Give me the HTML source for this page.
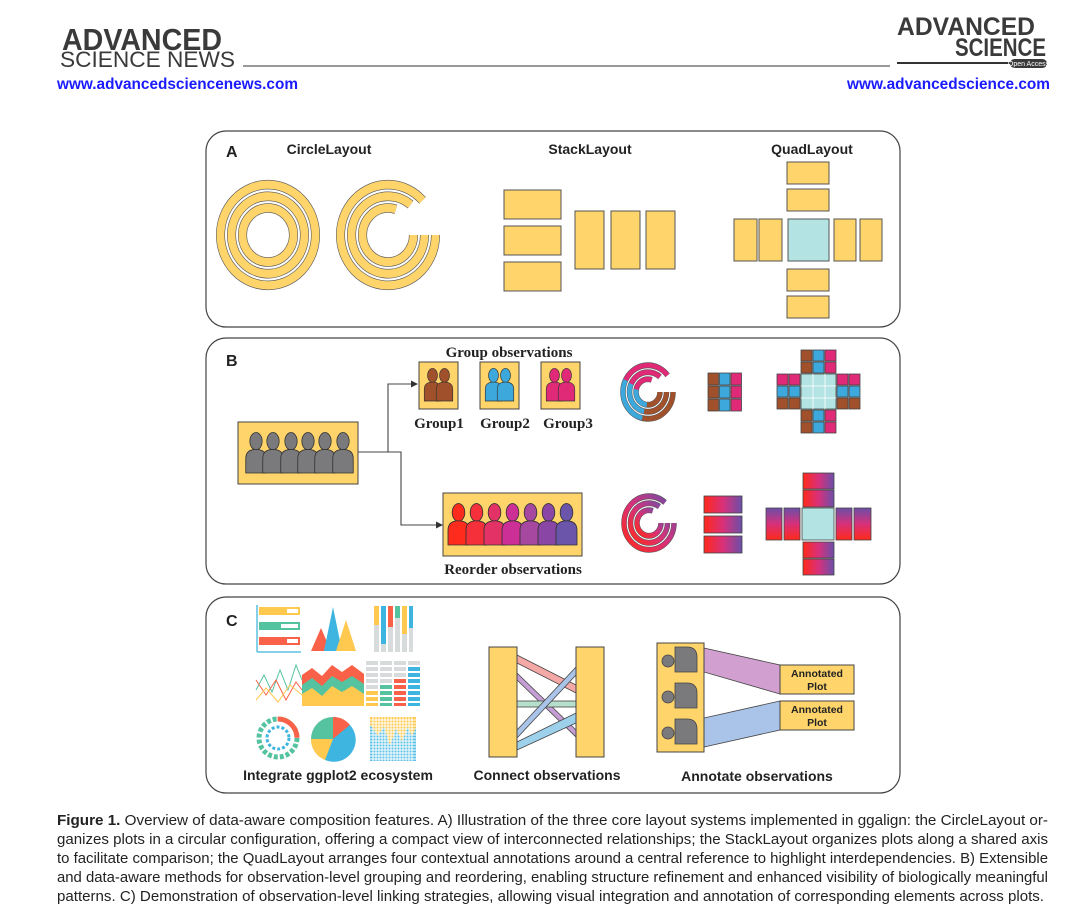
<!DOCTYPE html>
<html><head><meta charset="utf-8"><style>
html,body{margin:0;padding:0;background:#fff;}
svg{display:block;}
</style></head><body>
<svg width="1092" height="912" viewBox="0 0 1092 912" xmlns="http://www.w3.org/2000/svg" font-family="Liberation Sans, sans-serif">
<defs>
<symbol id="p" viewBox="0 0 20 40" overflow="visible">
<ellipse cx="10" cy="9" rx="6" ry="8.5"/>
<path d="M0,40 L0,26 Q0,17 10,17 Q20,17 20,26 L20,40 Z"/>
</symbol>
<linearGradient id="gh" x1="0" y1="0" x2="1" y2="0"><stop offset="0" stop-color="#ff2a1a"/><stop offset="0.5" stop-color="#d8307a"/><stop offset="1" stop-color="#6b4fa8"/></linearGradient>
<linearGradient id="gv" x1="0" y1="0" x2="0" y2="1"><stop offset="0" stop-color="#6b4fa8"/><stop offset="0.5" stop-color="#d8307a"/><stop offset="1" stop-color="#ff2a1a"/></linearGradient>
<linearGradient id="gc" x1="0" y1="1" x2="1" y2="0"><stop offset="0" stop-color="#ff2a1a"/><stop offset="0.5" stop-color="#d8307a"/><stop offset="1" stop-color="#6b4fa8"/></linearGradient>
</defs>

<!-- Header -->
<text x="62" y="50" font-size="31" font-weight="bold" fill="#3a3a3a" textLength="160" lengthAdjust="spacingAndGlyphs">ADVANCED</text>
<text x="60" y="67" font-size="22" fill="#3a3a3a" textLength="175" lengthAdjust="spacingAndGlyphs">SCIENCE NEWS</text>
<line x1="243" y1="66" x2="890" y2="66" stroke="#333" stroke-width="1"/>
<text x="897" y="35" font-size="25" font-weight="bold" fill="#3a3a3a" textLength="138" lengthAdjust="spacingAndGlyphs">ADVANCED</text>
<text x="955" y="56" font-size="25" font-weight="bold" fill="#3a3a3a" textLength="91" lengthAdjust="spacingAndGlyphs">SCIENCE</text>
<line x1="897" y1="63" x2="1010" y2="63" stroke="#333" stroke-width="2"/>
<rect x="1010" y="59" width="37" height="9" rx="4.5" fill="#3a3a3a"/>
<text x="1028.5" y="66" font-size="7" fill="#fff" text-anchor="middle">Open Access</text>
<text x="57" y="89" font-size="16" font-weight="bold" fill="#1a1aff" textLength="241" lengthAdjust="spacingAndGlyphs">www.advancedsciencenews.com</text>
<text x="1050" y="89" font-size="16" font-weight="bold" fill="#1a1aff" text-anchor="end" textLength="203" lengthAdjust="spacingAndGlyphs">www.advancedscience.com</text>

<!-- Panels -->
<g fill="none" stroke="#444" stroke-width="1.2">
<rect x="206" y="131" width="694" height="196" rx="20"/>
<rect x="206" y="338" width="694" height="246" rx="20"/>
<rect x="206" y="597" width="694" height="196" rx="20"/>
</g>

<!-- Panel A -->
<g font-weight="bold" font-size="14" fill="#222">
<text x="226" y="157" font-size="16">A</text>
<text x="329" y="154" text-anchor="middle">CircleLayout</text>
<text x="590" y="154" text-anchor="middle">StackLayout</text>
<text x="812" y="154" text-anchor="middle">QuadLayout</text>
</g>
<g transform="translate(268,235) scale(1,1.06)" fill="none">
<circle r="47.5" stroke="#555" stroke-width="9"/><circle r="47.5" stroke="#FFD56B" stroke-width="7.8"/>
<circle r="36.5" stroke="#555" stroke-width="9"/><circle r="36.5" stroke="#FFD56B" stroke-width="7.8"/>
<circle r="25.5" stroke="#555" stroke-width="9"/><circle r="25.5" stroke="#FFD56B" stroke-width="7.8"/>
</g>
<g transform="translate(388,235) scale(1,1.06)" fill="none">
<circle r="47.5" stroke="#555" stroke-width="9" stroke-dasharray="262 400"/><circle r="47.5" stroke="#FFD56B" stroke-width="7.8" stroke-dasharray="262 400"/>
<circle r="36.5" stroke="#555" stroke-width="9" stroke-dasharray="196 400"/><circle r="36.5" stroke="#FFD56B" stroke-width="7.8" stroke-dasharray="196 400"/>
<circle r="25.5" stroke="#555" stroke-width="9" stroke-dasharray="128 400"/><circle r="25.5" stroke="#FFD56B" stroke-width="7.8" stroke-dasharray="128 400"/>
</g>
<g fill="#FFD56B" stroke="#555" stroke-width="1">
<rect x="504" y="190" width="57" height="29"/><rect x="504" y="226" width="57" height="29"/><rect x="504" y="262" width="57" height="29"/>
<rect x="575" y="211" width="29" height="58"/><rect x="611" y="211" width="29" height="58"/><rect x="646" y="211" width="29" height="58"/>
<rect x="787" y="162" width="42" height="22"/><rect x="787" y="189" width="42" height="22"/>
<rect x="734" y="219" width="23" height="42"/><rect x="759" y="219" width="23" height="42"/>
<rect x="788" y="219" width="41" height="42" fill="#B3E3E3"/>
<rect x="834" y="219" width="22" height="42"/><rect x="860" y="219" width="22" height="42"/>
<rect x="787" y="269" width="42" height="22"/><rect x="787" y="296" width="42" height="22"/>
</g>

<!-- Panel B -->
<text x="226" y="366" font-size="16" font-weight="bold" fill="#222">B</text>
<g font-family="Liberation Serif, serif" font-weight="bold" fill="#222">
<text x="509" y="357" font-size="15" text-anchor="middle">Group observations</text>
<text x="439" y="428" font-size="15" text-anchor="middle">Group1</text>
<text x="505" y="428" font-size="15" text-anchor="middle">Group2</text>
<text x="568" y="428" font-size="15" text-anchor="middle">Group3</text>
<text x="513" y="574" font-size="15" text-anchor="middle">Reorder observations</text>
</g>
<g fill="#FFD56B" stroke="#444" stroke-width="1">
<rect x="238" y="422" width="120" height="62"/>
<rect x="419" y="362" width="39" height="47"/>
<rect x="480" y="362" width="39" height="47"/>
<rect x="541" y="362" width="39" height="47"/>
<rect x="443" y="493" width="139" height="63"/>
</g>
<g stroke="#333" stroke-width="0.8">
<g fill="#7a7a7c">
<use href="#p" x="245" y="432" width="22" height="41"/><use href="#p" x="262" y="432" width="22" height="41"/><use href="#p" x="280" y="432" width="22" height="41"/><use href="#p" x="297" y="432" width="22" height="41"/><use href="#p" x="314" y="432" width="22" height="41"/><use href="#p" x="332" y="432" width="22" height="41"/>
</g>
<g fill="#a0502a"><use href="#p" x="424" y="368" width="17" height="33"/><use href="#p" x="436" y="368" width="17" height="33"/></g>
<g fill="#3ca8dc"><use href="#p" x="485" y="368" width="17" height="33"/><use href="#p" x="497" y="368" width="17" height="33"/></g>
<g fill="#e02a78"><use href="#p" x="546" y="368" width="17" height="33"/><use href="#p" x="558" y="368" width="17" height="33"/></g>
<use href="#p" x="448" y="503" width="21" height="42" fill="#ff2b1c"/>
<use href="#p" x="466" y="503" width="21" height="42" fill="#f5303a"/>
<use href="#p" x="484" y="503" width="21" height="42" fill="#e33266"/>
<use href="#p" x="502" y="503" width="21" height="42" fill="#cc2f95"/>
<use href="#p" x="520" y="503" width="21" height="42" fill="#a647a0"/>
<use href="#p" x="538" y="503" width="21" height="42" fill="#8a46a5"/>
<use href="#p" x="556" y="503" width="21" height="42" fill="#6a55ab"/>
</g>
<g fill="none" stroke="#444" stroke-width="1.1">
<polyline points="358,452 401,452 401,525 437,525"/>
<polyline points="388,452 388,384 412,384"/>
</g>
<path d="M418,384 l-7,-3.5 v7 z M443,525 l-7,-3.5 v7 z" fill="#333"/>

<!-- B colored circle -->
<g transform="translate(648,392) scale(1,1.07)" fill="none">
<circle r="25" stroke="#555" stroke-width="5.5" stroke-dasharray="140 200"/>
<circle r="25" stroke="#a0502a" stroke-width="4.5" stroke-dasharray="45 200"/>
<circle r="25" stroke="#3ca8dc" stroke-width="4.5" stroke-dasharray="0 45 45 200"/>
<circle r="25" stroke="#e02a78" stroke-width="4.5" stroke-dasharray="0 90 50 200"/>
<circle r="18.5" stroke="#555" stroke-width="5.5" stroke-dasharray="100 200"/>
<circle r="18.5" stroke="#a0502a" stroke-width="4.5" stroke-dasharray="33 200"/>
<circle r="18.5" stroke="#3ca8dc" stroke-width="4.5" stroke-dasharray="0 33 33 200"/>
<circle r="18.5" stroke="#e02a78" stroke-width="4.5" stroke-dasharray="0 66 34 200"/>
<circle r="12" stroke="#555" stroke-width="5.5" stroke-dasharray="60 200"/>
<circle r="12" stroke="#a0502a" stroke-width="4.5" stroke-dasharray="20 200"/>
<circle r="12" stroke="#3ca8dc" stroke-width="4.5" stroke-dasharray="0 20 20 200"/>
<circle r="12" stroke="#e02a78" stroke-width="4.5" stroke-dasharray="0 40 20 200"/>
</g>
<!-- B stack grid -->
<g stroke="#444" stroke-width="0.8">
<rect x="708" y="373" width="10.5" height="12" fill="#a0502a"/><rect x="719.5" y="373" width="10.5" height="12" fill="#3ca8dc"/><rect x="731" y="373" width="10.5" height="12" fill="#e02a78"/>
<rect x="708" y="386" width="10.5" height="12" fill="#a0502a"/><rect x="719.5" y="386" width="10.5" height="12" fill="#3ca8dc"/><rect x="731" y="386" width="10.5" height="12" fill="#e02a78"/>
<rect x="708" y="399" width="10.5" height="12" fill="#a0502a"/><rect x="719.5" y="399" width="10.5" height="12" fill="#3ca8dc"/><rect x="731" y="399" width="10.5" height="12" fill="#e02a78"/>
</g>
<!-- B quad grid -->
<g stroke="#444" stroke-width="0.8">
<rect x="801" y="350" width="11" height="11" fill="#a0502a"/><rect x="813" y="350" width="11" height="11" fill="#3ca8dc"/><rect x="825" y="350" width="11" height="11" fill="#e02a78"/>
<rect x="801" y="362" width="11" height="11" fill="#a0502a"/><rect x="813" y="362" width="11" height="11" fill="#3ca8dc"/><rect x="825" y="362" width="11" height="11" fill="#e02a78"/>
<rect x="777" y="374" width="11" height="11" fill="#e02a78"/><rect x="789" y="374" width="11" height="11" fill="#e02a78"/>
<rect x="777" y="386" width="11" height="11" fill="#3ca8dc"/><rect x="789" y="386" width="11" height="11" fill="#3ca8dc"/>
<rect x="777" y="398" width="11" height="11" fill="#a0502a"/><rect x="789" y="398" width="11" height="11" fill="#a0502a"/>
<rect x="801" y="374" width="35" height="35" fill="#B3E3E3"/>
<path d="M813,374 v35 M825,374 v35 M801,386 h35 M801,398 h35" stroke="#fff"/>
<rect x="837" y="374" width="11" height="11" fill="#e02a78"/><rect x="849" y="374" width="11" height="11" fill="#e02a78"/>
<rect x="837" y="386" width="11" height="11" fill="#3ca8dc"/><rect x="849" y="386" width="11" height="11" fill="#3ca8dc"/>
<rect x="837" y="398" width="11" height="11" fill="#a0502a"/><rect x="849" y="398" width="11" height="11" fill="#a0502a"/>
<rect x="801" y="410" width="11" height="11" fill="#a0502a"/><rect x="813" y="410" width="11" height="11" fill="#3ca8dc"/><rect x="825" y="410" width="11" height="11" fill="#e02a78"/>
<rect x="801" y="422" width="11" height="11" fill="#a0502a"/><rect x="813" y="422" width="11" height="11" fill="#3ca8dc"/><rect x="825" y="422" width="11" height="11" fill="#e02a78"/>
</g>
<!-- B gradient circle -->
<g transform="translate(649,523) scale(1,1.07)" fill="none">
<circle r="25" stroke="#555" stroke-width="5.5" stroke-dasharray="135 200"/><circle r="25" stroke="url(#gc)" stroke-width="4.5" stroke-dasharray="135 200"/>
<circle r="18.5" stroke="#555" stroke-width="5.5" stroke-dasharray="98 200"/><circle r="18.5" stroke="url(#gc)" stroke-width="4.5" stroke-dasharray="98 200"/>
<circle r="12" stroke="#555" stroke-width="5.5" stroke-dasharray="60 200"/><circle r="12" stroke="url(#gc)" stroke-width="4.5" stroke-dasharray="60 200"/>
</g>
<g stroke="#444" stroke-width="0.8">
<rect x="704" y="496" width="38" height="17" fill="url(#gh)"/><rect x="704" y="516" width="38" height="17" fill="url(#gh)"/><rect x="704" y="536" width="38" height="17" fill="url(#gh)"/>
<rect x="803" y="473" width="31" height="16" fill="url(#gh)"/><rect x="803" y="490" width="31" height="17" fill="url(#gh)"/>
<rect x="766" y="508" width="16" height="32" fill="url(#gv)"/><rect x="784" y="508" width="16" height="32" fill="url(#gv)"/>
<rect x="802" y="508" width="32" height="32" fill="#B3E3E3"/>
<rect x="836" y="508" width="16" height="32" fill="url(#gv)"/><rect x="854" y="508" width="17" height="32" fill="url(#gv)"/>
<rect x="803" y="542" width="31" height="16" fill="url(#gh)"/><rect x="803" y="559" width="31" height="16" fill="url(#gh)"/>
</g>

<!-- Panel C -->
<text x="226" y="626" font-size="16" font-weight="bold" fill="#222">C</text>
<g font-weight="bold" font-size="14" fill="#222">
<text x="338" y="780" text-anchor="middle">Integrate ggplot2 ecosystem</text>
<text x="547" y="780" text-anchor="middle">Connect observations</text>
<text x="757" y="781" text-anchor="middle">Annotate observations</text>
</g>
<g>
<line x1="257" y1="605" x2="257" y2="652" stroke="#5bc0e0" stroke-width="1.5"/><line x1="257" y1="652" x2="301" y2="652" stroke="#5bc0e0" stroke-width="1.5"/>
<rect x="259" y="607" width="41" height="8" fill="#FFC94F"/><rect x="287" y="609" width="11" height="4" fill="#fff"/>
<rect x="259" y="622" width="41" height="8" fill="#55c3a0"/><rect x="281" y="624" width="17" height="4" fill="#fff"/>
<rect x="259" y="637" width="41" height="8" fill="#f96248"/><rect x="287" y="639" width="11" height="4" fill="#fff"/>
<polygon points="311,651 321,628 331,651" fill="#f96248"/><polygon points="324,651 333,607 342,651" fill="#3db5e0"/><polygon points="336,651 346,620 356,651" fill="#FFC94F"/>
<g fill="#d7dbdb"><rect x="374" y="606" width="5" height="46"/><rect x="381" y="606" width="5" height="46"/><rect x="388" y="606" width="5" height="46"/><rect x="395" y="606" width="5" height="46"/><rect x="402" y="606" width="5" height="46"/><rect x="409" y="606" width="4" height="46"/></g>
<rect x="374" y="606" width="5" height="19" fill="#FFC94F"/><rect x="381" y="606" width="5" height="38" fill="#3db5e0"/><rect x="388" y="606" width="5" height="21" fill="#f96248"/><rect x="395" y="606" width="5" height="12" fill="#55c3a0"/><rect x="402" y="606" width="5" height="28" fill="#FFC94F"/><rect x="409" y="606" width="4" height="22" fill="#3db5e0"/>
<g fill="none" stroke-width="1"><polyline points="256,690 264,675 272,692 280,670 288,690 296,665 302,680" stroke="#55c3a0"/><polyline points="256,680 266,695 276,680 286,700 296,682 302,690" stroke="#f96248"/><polyline points="256,700 266,688 278,702 290,685 302,695" stroke="#FFC94F"/></g>
<polygon points="302,706 302,675 312,668 322,676 332,665 342,672 352,665 364,674 364,706" fill="#f96248"/>
<polygon points="302,706 302,685 312,678 322,686 332,676 342,682 352,676 364,684 364,706" fill="#55c3a0"/>
<polygon points="302,706 302,694 312,688 322,696 332,686 342,692 352,686 364,694 364,706" fill="#FFC94F"/>
<g fill="#d7dbdb"><rect x="366" y="661" width="12" height="4"/><rect x="380" y="661" width="12" height="4"/><rect x="394" y="661" width="12" height="4"/><rect x="408" y="661" width="12" height="4"/><rect x="366" y="667" width="12" height="4"/><rect x="380" y="667" width="12" height="4"/><rect x="394" y="667" width="12" height="4"/><rect x="366" y="673" width="12" height="4"/><rect x="380" y="673" width="12" height="4"/><rect x="394" y="673" width="12" height="4"/><rect x="366" y="679" width="12" height="4"/><rect x="380" y="679" width="12" height="4"/><rect x="366" y="685" width="12" height="4"/></g>
<g fill="#3db5e0"><rect x="408" y="667" width="12" height="4"/><rect x="408" y="673" width="12" height="4"/><rect x="408" y="679" width="12" height="4"/><rect x="408" y="685" width="12" height="4"/><rect x="408" y="691" width="12" height="4"/><rect x="408" y="697" width="12" height="4"/><rect x="408" y="703" width="12" height="3"/></g>
<g fill="#f96248"><rect x="394" y="679" width="12" height="4"/><rect x="394" y="685" width="12" height="4"/><rect x="394" y="691" width="12" height="4"/><rect x="394" y="697" width="12" height="4"/><rect x="394" y="703" width="12" height="3"/></g>
<g fill="#55c3a0"><rect x="380" y="685" width="12" height="4"/><rect x="380" y="691" width="12" height="4"/><rect x="380" y="697" width="12" height="4"/><rect x="380" y="703" width="12" height="3"/></g>
<g fill="#FFC94F"><rect x="366" y="691" width="12" height="4"/><rect x="366" y="697" width="12" height="4"/><rect x="366" y="703" width="12" height="3"/></g>
<circle cx="278" cy="738" r="19" fill="none" stroke="#55c3a0" stroke-width="5" stroke-dasharray="4 2"/>
<circle cx="278" cy="738" r="19" fill="none" stroke="#f96248" stroke-width="5" stroke-dasharray="0 89 30 200"/>
<circle cx="278" cy="738" r="11" fill="none" stroke="#3db5e0" stroke-width="3" stroke-dasharray="3 2"/>
<circle cx="333" cy="739" r="22" fill="#55c3a0"/>
<path d="M333,739 L333,717 A22,22 0 0,1 350,725 Z" fill="#f96248"/>
<path d="M333,739 L350,725 A22,22 0 0,1 325,760 Z" fill="#3db5e0"/>
<path d="M333,739 L325,760 A22,22 0 0,1 311,739 Z" fill="#FFC94F"/>
<rect x="370" y="717" width="46" height="44" fill="#3db5e0" opacity="0.85"/>
<path d="M370,717 h46 v10 l-4,10 l-4,-10 l-6,14 l-6,-12 l-6,16 l-6,-18 l-6,8 l-8,-10 z" fill="#FFC94F"/>
<g stroke="#fff" stroke-width="1"><path d="M373,717 v44 M376,717 v44 M379,717 v44 M382,717 v44 M385,717 v44 M388,717 v44 M391,717 v44 M394,717 v44 M397,717 v44 M400,717 v44 M403,717 v44 M406,717 v44 M409,717 v44 M412,717 v44 M370,720 h46 M370,723 h46 M370,726 h46 M370,729 h46 M370,732 h46 M370,735 h46 M370,738 h46 M370,741 h46 M370,744 h46 M370,747 h46 M370,750 h46 M370,753 h46 M370,756 h46 M370,759 h46"/></g>
</g>
<!-- Connect -->
<g stroke="#444" stroke-width="0.8">
<polygon points="517,655 576,685 576,693 517,663" fill="#f4a9a6"/>
<polygon points="517,673 576,730 576,737 517,680" fill="#c49ed4"/>
<rect x="517" y="701" width="59" height="6" fill="#b7e0cc"/>
<polygon points="517,730 576,667 576,675 517,738" fill="#a9c4e8"/>
<polygon points="517,742 576,713 576,723 517,750" fill="#9dd0ea"/>
<rect x="489" y="647" width="28" height="110" fill="#FFD56B" stroke-width="1"/>
<rect x="576" y="647" width="28" height="110" fill="#FFD56B" stroke-width="1"/>
</g>
<!-- Annotate -->
<g stroke="#444" stroke-width="0.8">
<polygon points="704,648 780,665 780,694 704,672" fill="#d1a0d0"/>
<polygon points="704,718 780,701 780,730 704,747" fill="#a9c4e8"/>
<rect x="657" y="643" width="47" height="109" fill="#FFD56B" stroke-width="1"/>
<g fill="#7a7a7c">
<circle cx="668" cy="661" r="6"/><path d="M675,647 h12 q10,0 10,10 v15 h-22 z"/>
<circle cx="668" cy="697" r="6"/><path d="M675,683 h12 q10,0 10,10 v15 h-22 z"/>
<circle cx="668" cy="733" r="6"/><path d="M675,719 h12 q10,0 10,10 v15 h-22 z"/>
</g>
<rect x="780" y="665" width="74" height="29" fill="#FFD56B" stroke-width="1"/>
<rect x="780" y="701" width="74" height="29" fill="#FFD56B" stroke-width="1"/>
</g>
<g font-weight="bold" font-size="10.5" fill="#222" text-anchor="middle">
<text x="817" y="677">Annotated</text><text x="817" y="690">Plot</text>
<text x="817" y="713">Annotated</text><text x="817" y="726">Plot</text>
</g>

<!-- Caption -->
<g font-family="Liberation Sans Narrow, Liberation Sans, sans-serif" font-size="14.5" fill="#222">
<text x="57" y="825" textLength="991" lengthAdjust="spacingAndGlyphs"><tspan font-weight="bold">Figure 1.</tspan> Overview of data-aware composition features. A) Illustration of the three core layout systems implemented in ggalign: the CircleLayout or-</text>
<text x="57" y="844" textLength="991" lengthAdjust="spacingAndGlyphs">ganizes plots in a circular configuration, offering a compact view of interconnected relationships; the StackLayout organizes plots along a shared axis</text>
<text x="57" y="863" textLength="991" lengthAdjust="spacingAndGlyphs">to facilitate comparison; the QuadLayout arranges four contextual annotations around a central reference to highlight interdependencies. B) Extensible</text>
<text x="57" y="882" textLength="991" lengthAdjust="spacingAndGlyphs">and data-aware methods for observation-level grouping and reordering, enabling structure refinement and enhanced visibility of biologically meaningful</text>
<text x="57" y="901" textLength="987" lengthAdjust="spacingAndGlyphs">patterns. C) Demonstration of observation-level linking strategies, allowing visual integration and annotation of corresponding elements across plots.</text>
</g>
</svg>
</body></html>
